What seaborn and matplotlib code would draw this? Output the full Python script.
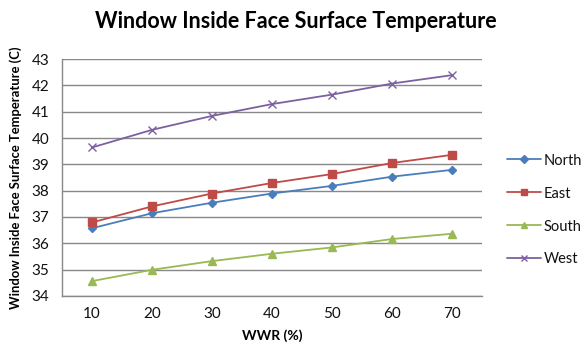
import matplotlib
matplotlib.use("Agg")
import matplotlib.pyplot as plt
import seaborn as sns
import pandas as pd
from matplotlib.ticker import FixedLocator
from matplotlib.lines import Line2D

wwr = ["10", "20", "30", "40", "50", "60", "70"]
north = [36.57, 37.14, 37.54, 37.89, 38.18, 38.53, 38.79]
east = [36.79, 37.40, 37.89, 38.29, 38.63, 39.05, 39.36]
south = [34.56, 34.99, 35.32, 35.60, 35.84, 36.16, 36.36]
west = [39.64, 40.31, 40.84, 41.29, 41.65, 42.07, 42.39]
series_names = ["North", "East", "South", "West"]
y_ticks = [34, 35, 36, 37, 38, 39, 40, 41, 42, 43]

sns.set_theme(style="white")
plt.rcParams['font.family'] = ['Lato', 'DejaVu Sans']

palette = {"North": "#4A7EBB", "East": "#BE4B48", "South": "#98B954", "West": "#7D60A0"}
markers = {"North": "D", "East": "s", "South": "^", "West": "x"}
msizes = {"North": 4.5, "East": 6, "South": 6, "West": 6}

fig = plt.figure(figsize=(5.85, 3.56), dpi=100)
ax = fig.add_axes([0.106, 0.169, 0.718, 0.665])

for name, vals in zip(series_names, [north, east, south, west]):
    d = pd.DataFrame({"pos": list(range(len(wwr))), "Temp": vals})
    sns.lineplot(data=d, x="pos", y="Temp", color=palette[name], marker=markers[name],
                 markersize=msizes[name], markeredgecolor=palette[name], markeredgewidth=1.0,
                 linewidth=1.3, ax=ax, legend=False)

ax.set_xlim(-0.5, 6.5)
ax.set_ylim(34, 43)
ax.set_yticks(y_ticks)
ax.set_xticks(range(len(wwr)))
ax.set_xticklabels(wwr)
ax.xaxis.set_minor_locator(FixedLocator([i - 0.5 for i in range(len(wwr) + 1)]))
ax.tick_params(axis="x", which="major", length=0, labelsize=11, pad=8, labelcolor="#111111")
ax.tick_params(axis="x", which="minor", length=5, width=1, color="#888888", direction="out")
ax.tick_params(axis="y", length=5, width=1, labelsize=11, pad=4, direction="out",
               color="#888888", labelcolor="#111111")
ax.yaxis.grid(True, color="#888888", linewidth=1)
ax.set_axisbelow(True)
for s in ["top", "right"]:
    ax.spines[s].set_visible(False)
for s in ["left", "bottom"]:
    ax.spines[s].set_color("#888888")
    ax.spines[s].set_linewidth(1)

ax.set_xlabel("WWR (%)", fontsize=10, fontweight="bold", labelpad=6, color="black")
ax.set_ylabel("Window Inside Face Surface Temperature (C)", fontsize=9.4, fontweight="bold",
              labelpad=7, color="black")
fig.suptitle("Window Inside Face Surface Temperature", fontsize=15.5, fontweight="bold",
             x=0.505, y=0.968, color="black")

handles = [Line2D([0], [0], color=palette[n], marker=markers[n], markersize=msizes[n] * 0.8,
                  markeredgecolor=palette[n], linewidth=1.3) for n in series_names]
leg = fig.legend(handles, series_names, loc="center left", bbox_to_anchor=(0.866, 0.41),
                 frameon=False, fontsize=10.5, handlelength=2.35, handletextpad=0.2,
                 labelspacing=1.3, borderpad=0, borderaxespad=0, labelcolor="#111111")

fig.savefig("out.png", dpi=100)
